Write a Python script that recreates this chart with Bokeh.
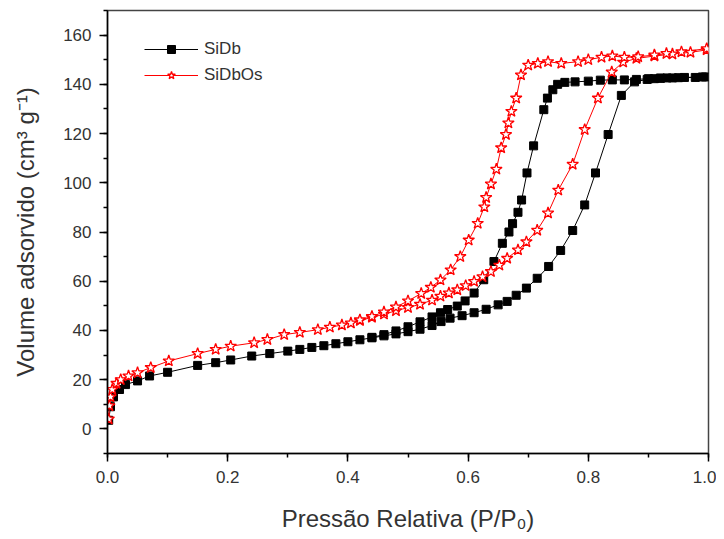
from bokeh.plotting import figure
from bokeh.models import Range1d, SingleIntervalTicker, NumeralTickFormatter, Legend, LegendItem
from bokeh.embed import file_html
from bokeh.resources import INLINE

# ---------------- data ----------------
sidb_ads_p = [0.002, 0.005, 0.01, 0.02, 0.03, 0.05, 0.07, 0.10, 0.15, 0.18, 0.205, 0.24, 0.27, 0.30,
              0.32, 0.34, 0.36, 0.38, 0.40, 0.42, 0.44, 0.46, 0.48, 0.50, 0.52, 0.54, 0.555, 0.57,
              0.59, 0.61, 0.63, 0.65, 0.665, 0.68, 0.697, 0.715, 0.734, 0.754, 0.774, 0.794, 0.812,
              0.833, 0.855, 0.877, 0.898, 0.91, 0.92, 0.931, 0.95, 0.978, 0.995]
sidb_ads_v = [3.5, 9, 13, 16, 18, 19.5, 21.5, 23, 25.8, 26.9, 28, 29.6, 30.6, 31.6,
              32.3, 33.1, 33.8, 34.6, 35.4, 36.2, 37, 37.8, 38.6, 39.5, 40.5, 42, 43.6, 45,
              46, 47.2, 48.6, 50.4, 51.8, 54.3, 57.2, 61.2, 66, 72.5, 80.6, 91, 104,
              119.6, 135.5, 141, 142, 142.3, 142.5, 142.6, 142.7, 142.8, 143]

sidb_des_p = [0.99, 0.96, 0.94, 0.92, 0.90, 0.88, 0.86, 0.84, 0.82, 0.80, 0.778, 0.761, 0.749,
              0.741, 0.732, 0.726, 0.709, 0.698, 0.689, 0.683, 0.674, 0.668, 0.657, 0.643, 0.626,
              0.61, 0.595, 0.582, 0.566, 0.554, 0.54, 0.52, 0.50, 0.48, 0.46, 0.44]
sidb_des_v = [143, 142.8, 142.6, 142.5, 142.3, 142, 141.8, 141.8, 141.7, 141.3, 141, 140.8, 140,
              137.8, 134.4, 129.7, 115, 104, 93, 88, 83.4, 80, 75.4, 68, 60.6,
              55.2, 52, 49.9, 48.5, 47.2, 45.5, 43.5, 41.5, 39.8, 38.3, 37.2]

sidbos_ads_p = [0.002, 0.003, 0.005, 0.008, 0.015, 0.022, 0.035, 0.05, 0.072, 0.102, 0.15, 0.18,
                0.205, 0.244, 0.266, 0.294, 0.32, 0.35, 0.37, 0.39, 0.405, 0.42, 0.44, 0.46, 0.48,
                0.50, 0.52, 0.54, 0.554, 0.568, 0.582, 0.596, 0.61, 0.624, 0.638, 0.652, 0.665,
                0.683, 0.697, 0.715, 0.733, 0.75, 0.774, 0.794, 0.816, 0.839, 0.858, 0.88, 0.91,
                0.94, 0.97, 0.997]
sidbos_ads_v = [4, 9.4, 13, 16, 18.5, 20, 21.5, 22.8, 24.9, 27.6, 30.6, 32.3,
                33.6, 35, 36.3, 38.3, 39.2, 40.3, 41.3, 42.2, 43, 44, 45.3, 46.6, 48,
                49.3, 50.6, 52.3, 53.9, 55.2, 56.5, 58.2, 59.9, 61.8, 63.9, 66.5, 69.3,
                72.7, 76, 80.7, 87.7, 97, 107.5, 121.6, 134.4, 145, 149, 150.5, 151.5,
                152.3, 153, 154]

sidbos_des_p = [0.997, 0.955, 0.93, 0.91, 0.883, 0.86, 0.84, 0.822, 0.80, 0.783, 0.755, 0.733,
                0.716, 0.70, 0.688, 0.68, 0.672, 0.667, 0.663, 0.655, 0.647, 0.638, 0.63, 0.627,
                0.616, 0.601, 0.587, 0.571, 0.554, 0.538, 0.522, 0.50, 0.48, 0.46, 0.44, 0.42]
sidbos_des_v = [154.5, 153.2, 152.5, 151.9, 151.2, 151, 151.5, 151, 150, 149.2, 148.5, 149.2,
                148.5, 147.8, 143.8, 134.4, 129, 124.3, 119.6, 114.2, 105.5, 99.5, 94, 90.2,
                83.5, 76.7, 70, 64.6, 60.5, 57.5, 55, 52, 49.5, 47.5, 45.7, 44.3]

series_names = ["SiDb", "SiDbOs"]
x_label = "Pressão Relativa (P/P₀)"
y_label = "Volume adsorvido (cm³ g⁻¹)"

# ---------------- figure ----------------
FONT = "Liberation Sans"
p = figure(width=716, height=539, output_backend="svg", toolbar_location=None,
           x_range=Range1d(0, 1), y_range=Range1d(-10, 170),
           min_border_left=107, min_border_right=8, min_border_top=10, min_border_bottom=86)
p.xgrid.visible = False
p.ygrid.visible = False
p.outline_line_color = "#444444"
p.outline_line_width = 1.5
p.background_fill_color = "white"

p.xaxis.ticker = SingleIntervalTicker(interval=0.2, num_minor_ticks=2)
p.yaxis.ticker = SingleIntervalTicker(interval=20, num_minor_ticks=2)
p.xaxis.formatter = NumeralTickFormatter(format="0.0")
p.xaxis.axis_label = x_label
p.yaxis.axis_label = y_label

for ax in (p.xaxis[0], p.yaxis[0]):
    ax.axis_line_color = "black"
    ax.axis_line_width = 1.5
    ax.major_tick_line_color = "black"
    ax.major_tick_line_width = 1.5
    ax.major_tick_out = 8
    ax.major_tick_in = 0
    ax.minor_tick_line_color = "black"
    ax.minor_tick_line_width = 1.5
    ax.minor_tick_out = 4
    ax.minor_tick_in = 0
    ax.major_label_text_font = FONT
    ax.major_label_text_font_size = "17px"
    ax.major_label_text_color = "#333333"
    ax.axis_label_text_font = FONT
    ax.axis_label_text_font_size = "24px"
    ax.axis_label_text_font_style = "normal"
    ax.axis_label_text_color = "#333333"

p.xaxis.major_label_standoff = 9
p.xaxis.axis_label_standoff = 19
p.yaxis.major_label_standoff = 8
p.yaxis.axis_label_standoff = 21

# ---------------- glyphs ----------------
b_l1 = p.line(sidb_ads_p, sidb_ads_v, line_color="black", line_width=1)
p.line(sidb_des_p, sidb_des_v, line_color="black", line_width=1)
b_s1 = p.scatter(sidb_ads_p, sidb_ads_v, marker="square", size=8, color="black")
p.scatter(sidb_des_p, sidb_des_v, marker="square", size=8, color="black")

r_l1 = p.line(sidbos_ads_p, sidbos_ads_v, line_color="red", line_width=1)
p.line(sidbos_des_p, sidbos_des_v, line_color="red", line_width=1)
r_s1 = p.scatter(sidbos_ads_p, sidbos_ads_v, marker="star", size=12,
                 line_color="red", fill_color="white", line_width=1.3)
p.scatter(sidbos_des_p, sidbos_des_v, marker="star", size=12,
          line_color="red", fill_color="white", line_width=1.3)

legend = Legend(items=[LegendItem(label=series_names[0], renderers=[b_l1, b_s1]),
                       LegendItem(label=series_names[1], renderers=[r_l1, r_s1])],
                location=(37, 368), padding=0, margin=0, spacing=6,
                glyph_width=54, glyph_height=20, label_height=20, label_standoff=6,
                border_line_color=None, background_fill_alpha=0,
                label_text_font=FONT, label_text_font_size="17px", label_text_color="#333333")
p.add_layout(legend)

open("out.html", "w").write(file_html(p, INLINE))
